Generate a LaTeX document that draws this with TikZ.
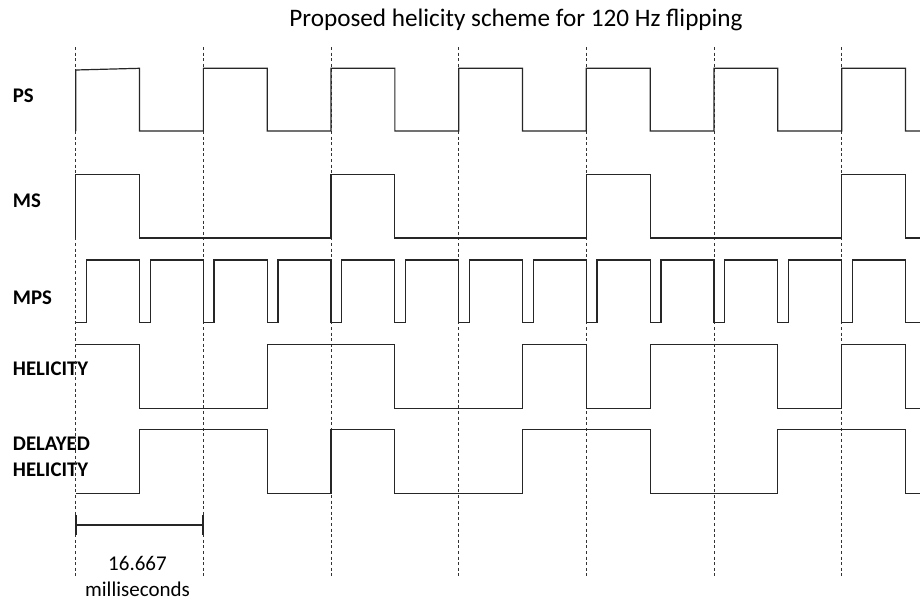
\documentclass[tikz,border=0pt]{standalone}
\usepackage{fontspec}
\setmainfont{Carlito}
\begin{document}
\begin{tikzpicture}[x=1pt,y=-1pt,
  sig/.style={line width=1.2pt,black!85,line join=miter},
  grid/.style={line width=0.8pt,black!80,dash pattern=on 3pt off 2.6pt},
  lbl/.style={anchor=base west,inner sep=0pt,font=\fontsize{20.8}{24}\selectfont\bfseries},
  txt/.style={anchor=base,inner sep=0pt,font=\fontsize{21}{25}\selectfont}]
\useasboundingbox (0,0) rectangle (920,605);
\fill[white] (0,0) rectangle (920,605);
% title
\node[anchor=base,inner sep=0pt,font=\fontsize{25.2}{30}\selectfont] (title) at (516,27) {Proposed helicity scheme for 120 Hz flipping};
% labels
\node[lbl] (lps) at (12.7,102.7) {PS};
\node[lbl] (lms) at (12.7,207.7) {MS};
\node[lbl] (lmps) at (12.7,304.3) {MPS};
\node[lbl] (lhel) at (12.7,375) {HELICITY};
\node[lbl] (ldh1) at (12.7,450) {DELAYED};
\node[lbl] (ldh2) at (12.7,476.7) {HELICITY};
\begin{scope}[xshift=75.7pt,x=63.83pt]
% dashed period markers
\foreach \k in {0,2,...,12} \draw[grid] (\k,47) -- (\k,578);
% PS
\draw[sig] (0,131) -- (0,70) -- (1,68.3) -- (1,131) -- (2,131)
  foreach \k in {2,4,...,12} { -- (\k,68.3) -- ({\k+1},68.3) -- ({\k+1},131) -- ({\k+2},131) };
% MS
\draw[sig] (0,238) -- (0,174.3)
  foreach \k in {0,4,8} { -- (\k,174.3) -- ({\k+1},174.3) -- ({\k+1},238) -- ({\k+4},238) -- ({\k+4},174.3) }
  -- (13,174.3) -- (13,238) -- (13.227,238);
% MPS
\draw[sig] (0,322.7) foreach \k in {0,...,12} { -- ({\k+0.168},322.7) -- ({\k+0.168},260) -- ({\k+1},260) -- ({\k+1},322.7) } -- (13.227,322.7);
% HELICITY
\draw[sig] (0,344.3) -- (1,344.3) -- (1,408.7) -- (3,408.7) -- (3,344.3) -- (5,344.3) -- (5,408.7) -- (7,408.7) -- (7,344.3) -- (8,344.3) -- (8,408.7) -- (9,408.7) -- (9,344.3) -- (11,344.3) -- (11,408.7) -- (12,408.7) -- (12,344.3) -- (13,344.3) -- (13,408.7) -- (13.227,408.7);
% DELAYED HELICITY
\draw[sig] (0,493.3) -- (1,493.3) -- (1,429.3) -- (3,429.3) -- (3,493.3) -- (4,493.3) -- (4,429.3) -- (5,429.3) -- (5,493.3) -- (7,493.3) -- (7,429.3) -- (9,429.3) -- (9,493.3) -- (11,493.3) -- (11,429.3) -- (13,429.3) -- (13,493.3) -- (13.227,493.3);
% scale bar
\coordinate (s1) at (0,525);
\coordinate (s2) at (2,525);
\coordinate (s1t) at (0,515);
\coordinate (s1b) at (0,535);
\coordinate (s2t) at (2,515);
\coordinate (s2b) at (2,535);
\draw[line width=1.2pt,black!85] (s1) -- (s2);
\draw[line width=2pt,black!85] (s1t) -- (s1b);
\draw[line width=2pt,black!85] (s2t) -- (s2b);
\end{scope}
\node[txt] (val) at (137.5,570.7) {16.667};
\node[txt] (unit) at (137.5,596.7) {milliseconds};
\end{tikzpicture}
\end{document}
